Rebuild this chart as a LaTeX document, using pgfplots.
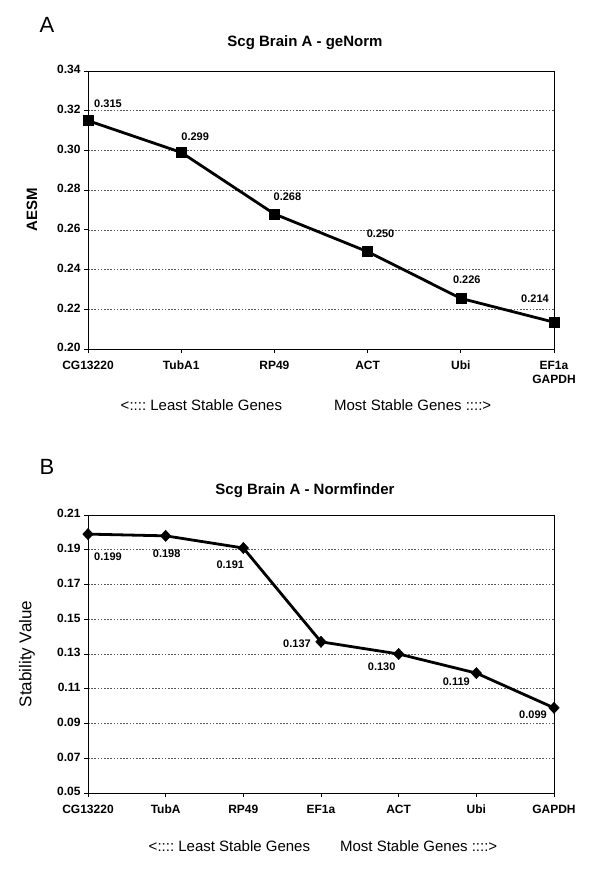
\documentclass[border=0pt]{standalone}
\usepackage{pgfplots}
\pgfplotsset{compat=1.18}
\usepackage{pgfplotstable}
\usepackage{fontspec}
\setmainfont{Liberation Sans}
\frenchspacing

\pgfplotstableread{
x y lab dx dy
0 0.315 0.315 20 17
1 0.299 0.299 14 16
2 0.268 0.268 13 17
3 0.249 0.250 13 18
4 0.2255 0.226 6 19
5 0.2135 0.214 -19 23
}\dataA

\pgfplotstableread{
x y lab dx dy
0 0.199 0.199 20 -23
1 0.198 0.198 1 -18
2 0.191 0.191 -13 -17
3 0.137 0.137 -24 -2
4 0.130 0.130 -17 -13
5 0.119 0.119 -20 -9
6 0.099 0.099 -21 -7
}\dataB

\pgfplotsset{
  panel/.style={
    scale only axis,
    width=466pt,
    anchor=south west,
    axis line style={black, line width=0.9pt},
    tick pos=left,
    tick align=outside,
    major tick length=4pt,
    tick style={black, line width=0.8pt},
    ymajorgrids,
    major grid style={black!65, dash pattern=on 1.6pt off 1.6pt, line width=0.5pt},
    /pgf/number format/assume math mode=true,
    typeset ticklabels with strut,
    yticklabel style={/pgf/number format/.cd, fixed, fixed zerofill, precision=2, /tikz/.cd,
      font=\bfseries\fontsize{12}{14}\selectfont},
    xticklabel style={font=\bfseries\fontsize{12}{14}\selectfont, align=center, yshift=-3pt},
    clip=false,
  },
  lbl/.style={
    draw=none, mark=none,
    nodes near coords,
    point meta=explicit symbolic,
    visualization depends on={\thisrow{dx}\as\dx},
    visualization depends on={\thisrow{dy}\as\dy},
    every node near coord/.append style={anchor=center, xshift=\dx, yshift=\dy,
      font=\bfseries\fontsize{11}{13}\selectfont, text=black},
  },
}

\begin{document}
\begin{tikzpicture}
\useasboundingbox (0pt,0pt) rectangle (600pt,879pt);

% ---------- Panel A ----------
\node[font=\fontsize{22}{26}\selectfont] at (47pt,854pt) {A};
\node[font=\bfseries\fontsize{15}{18}\selectfont] at (305pt,836pt) {Scg Brain A - geNorm};
\begin{axis}[panel,
  at={(88pt,530pt)},
  height=278pt,
  xmin=0, xmax=5,
  ymin=0.20, ymax=0.34,
  ytick={0.20,0.22,0.24,0.26,0.28,0.30,0.32,0.34},
  xtick={0,1,2,3,4,5},
  xticklabels={CG13220,TubA1,RP49,ACT,Ubi,{EF1a\\GAPDH}},
]
\addplot[black, line width=2.8pt, mark=square*, mark size=5pt, mark options={solid, line width=0.5pt}]
  table[x=x, y=y] {\dataA};
\addplot[lbl] table[x=x, y=y, meta=lab] {\dataA};
\end{axis}
\node[font=\bfseries\fontsize{15}{18}\selectfont, rotate=90] at (32pt,669pt) {AESM};
\node[font=\fontsize{15}{18}\selectfont] at (306pt,474pt)
  {<:::: Least Stable Genes\hspace{52pt}Most Stable Genes ::::>};

% ---------- Panel B ----------
\node[font=\fontsize{22}{26}\selectfont] at (47pt,412pt) {B};
\node[font=\bfseries\fontsize{15}{18}\selectfont] at (305pt,388pt) {Scg Brain A - Normfinder};
\begin{axis}[panel,
  at={(88pt,86pt)},
  height=278pt,
  xmin=0, xmax=6,
  ymin=0.05, ymax=0.21,
  ytick={0.05,0.07,0.09,0.11,0.13,0.15,0.17,0.19,0.21},
  xtick={0,1,2,3,4,5,6},
  xticklabels={CG13220,TubA,RP49,EF1a,ACT,Ubi,GAPDH},
]
\addplot[black, line width=2.8pt, mark=diamond*, mark size=5.6pt, mark options={solid, line width=0.5pt, xscale=1.25}]
  table[x=x, y=y] {\dataB};
\addplot[lbl] table[x=x, y=y, meta=lab] {\dataB};
\end{axis}
\node[font=\fontsize{17}{20}\selectfont, rotate=90] at (27pt,225pt) {Stability Value};
\node[font=\fontsize{15}{18}\selectfont] at (323pt,33pt)
  {<:::: Least Stable Genes\hspace{30pt}Most Stable Genes ::::>};
\end{tikzpicture}
\end{document}
